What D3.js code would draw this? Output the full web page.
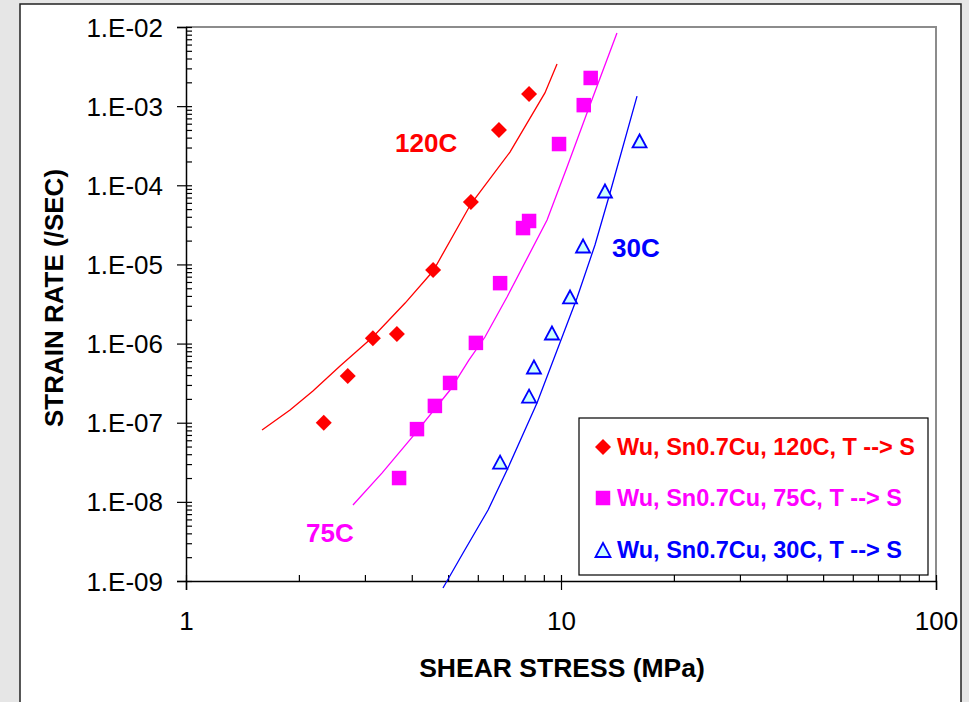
<!DOCTYPE html>
<html>
<head>
<meta charset="utf-8">
<script src="https://cdn.jsdelivr.net/npm/d3@7"></script>
<style>
  body { margin: 0; background: #e6e6e6; }
  svg { display: block; }
  text { font-family: "Liberation Sans", Arial, sans-serif; }
</style>
</head>
<body>
<svg id="chart" width="969" height="702"></svg>
<script>
// Measured creep data: shear stress (MPa) vs strain rate (/sec)
const stress120 = [2.33, 2.70, 3.15, 3.65, 4.56, 5.75, 6.83, 8.22];
const rate120   = [1.0e-7, 3.9e-7, 1.17e-6, 1.32e-6, 8.5e-6, 6.15e-5, 5.0e-4, 1.42e-3];

const stress75 = [3.70, 4.13, 4.61, 5.06, 5.93, 6.88, 7.92, 8.22, 9.88, 11.5, 12.0];
const rate75   = [2.0e-8, 8.3e-8, 1.63e-7, 3.18e-7, 1.02e-6, 5.8e-6, 2.88e-5, 3.54e-5, 3.32e-4, 1.03e-3, 2.27e-3];

const stress30 = [6.88, 8.22, 8.47, 9.46, 10.57, 11.45, 13.1, 16.2];
const rate30   = [3.18e-8, 2.17e-7, 5.06e-7, 1.36e-6, 3.88e-6, 1.71e-5, 8.47e-5, 3.63e-4];

// Fitted curves
const fit120Stress = [1.595, 1.894, 2.18, 2.575, 3.15, 3.84, 4.56, 5.75, 7.31, 9.06, 9.76];
const fit120Rate   = [8.09e-8, 1.447e-7, 2.516e-7, 5.21e-7, 1.21e-6, 3.25e-6, 8.26e-6, 5.80e-5, 2.63e-4, 1.47e-3, 3.41e-3];

const fit75Stress = [2.788, 3.33, 4.01, 5.06, 5.68, 6.27, 7.18, 9.18, 10.38, 11.73, 14.1];
const fit75Rate   = [9.12e-9, 2.31e-8, 6.59e-8, 2.59e-7, 6.19e-7, 1.21e-6, 3.88e-6, 3.64e-5, 1.70e-4, 8.19e-4, 8.4e-3];

const fit30Stress = [4.845, 5.48, 6.39, 7.18, 8.63, 11.03, 12.32, 13.51, 15.95];
const fit30Rate   = [8.15e-10, 2.26e-9, 7.88e-9, 2.52e-8, 1.77e-7, 3.77e-6, 1.76e-5, 7.99e-5, 1.34e-3];

const seriesNames = ["Wu, Sn0.7Cu, 120C, T --> S", "Wu, Sn0.7Cu, 75C, T --> S", "Wu, Sn0.7Cu, 30C, T --> S"];
const curveLabels = ["120C", "75C", "30C"];

const xTickValues = [1, 10, 100];
const xTickLabels = ["1", "10", "100"];
const yTickValues = [1e-9, 1e-8, 1e-7, 1e-6, 1e-5, 1e-4, 1e-3, 1e-2];
const yTickLabels = ["1.E-09", "1.E-08", "1.E-07", "1.E-06", "1.E-05", "1.E-04", "1.E-03", "1.E-02"];

const xTitle = "SHEAR STRESS (MPa)";
const yTitle = "STRAIN RATE (/SEC)";

const RED = "#ff0000", MAGENTA = "#ff00ff", BLUE = "#0000ff";

const svg = d3.select("#chart");

// page background and chart frame
svg.append("rect").attr("width", 969).attr("height", 702).attr("fill", "#e6e6e6");
svg.append("rect").attr("x", 20).attr("y", 4).attr("width", 941).attr("height", 730)
  .attr("fill", "#ffffff").attr("stroke", "#222").attr("stroke-width", 1.5);

const plotLeft = 186, plotRight = 936, plotTop = 27, plotBottom = 581;
const x = d3.scaleLog().domain([1, 100]).range([plotLeft, plotRight]);
const y = d3.scaleLog().domain([1e-9, 1e-2]).range([plotBottom, plotTop]);

// plot area border (top and right)
svg.append("path")
  .attr("d", `M${plotLeft},${plotTop}H${plotRight}V${plotBottom}`)
  .attr("fill", "none").attr("stroke", "#8c8c8c").attr("stroke-width", 2);

// minor tick positions (2..9 within each decade)
const xMinor = [], yMinor = [];
xTickValues.slice(0, -1).forEach(d => { for (let k = 2; k <= 9; k++) xMinor.push(d * k); });
yTickValues.slice(0, -1).forEach(d => { for (let k = 2; k <= 9; k++) yMinor.push(d * k); });

const tickFont = "26px";

// Y axis: major ticks outward with labels
const yAxis = svg.append("g").attr("transform", `translate(${plotLeft},0)`)
  .call(d3.axisLeft(y).tickValues(yTickValues).tickSize(9).tickPadding(14)
    .tickFormat((d, i) => yTickLabels[i]));
yAxis.select(".domain").attr("stroke", "#000").attr("stroke-width", 1.5);
yAxis.selectAll(".tick line").attr("stroke", "#000").attr("stroke-width", 1.2);
yAxis.selectAll(".tick text").attr("font-size", tickFont).attr("fill", "#000")
  .attr("font-family", "'Liberation Sans', Arial, sans-serif").attr("dy", "0.35em");

// Y axis inner ticks
const yInner = svg.append("g").attr("transform", `translate(${plotLeft},0)`)
  .call(d3.axisRight(y).tickValues(yMinor.concat(yTickValues)).tickSize(6).tickFormat(""));
yInner.select(".domain").remove();
yInner.selectAll(".tick line").attr("stroke", "#000").attr("stroke-width", 1.2);

// X axis: major ticks outward with labels
const xAxis = svg.append("g").attr("transform", `translate(0,${plotBottom})`)
  .call(d3.axisBottom(x).tickValues(xTickValues).tickSize(9).tickPadding(22)
    .tickFormat((d, i) => xTickLabels[i]));
xAxis.select(".domain").attr("stroke", "#000").attr("stroke-width", 1.5);
xAxis.selectAll(".tick line").attr("stroke", "#000").attr("stroke-width", 1.2);
xAxis.selectAll(".tick text").attr("font-size", tickFont).attr("fill", "#000")
  .attr("font-family", "'Liberation Sans', Arial, sans-serif");

// X axis inner ticks
const xInner = svg.append("g").attr("transform", `translate(0,${plotBottom})`)
  .call(d3.axisTop(x).tickValues(xMinor.concat(xTickValues)).tickSize(6).tickFormat(""));
xInner.select(".domain").remove();
xInner.selectAll(".tick line").attr("stroke", "#000").attr("stroke-width", 1.2);

// axis titles
svg.append("text").attr("x", 562).attr("y", 677).attr("text-anchor", "middle")
  .attr("font-size", "26.5px").attr("font-weight", "bold").attr("fill", "#000").text(xTitle);
svg.append("text").attr("transform", "translate(63,298) rotate(-90)").attr("text-anchor", "middle")
  .attr("font-size", "26px").attr("font-weight", "bold").attr("fill", "#000").text(yTitle);

// fitted curves
const line = d3.line().x(d => x(d[0])).y(d => y(d[1]));
[[fit120Stress, fit120Rate, RED], [fit75Stress, fit75Rate, MAGENTA], [fit30Stress, fit30Rate, BLUE]]
  .forEach(([xs, ys, c]) => {
    svg.append("path").datum(xs.map((v, i) => [v, ys[i]]))
      .attr("d", line).attr("fill", "none").attr("stroke", c).attr("stroke-width", 1.3);
  });

// markers
const diamond = (cx, cy, r) => `M${cx},${cy - r}L${cx + r},${cy}L${cx},${cy + r}L${cx - r},${cy}Z`;
const square = (cx, cy, s) => `M${cx - s / 2},${cy - s / 2}h${s}v${s}h${-s}Z`;
const triangle = (cx, cy, w, h) => `M${cx},${cy - h / 2}L${cx + w / 2},${cy + h / 2}L${cx - w / 2},${cy + h / 2}Z`;

svg.append("g").selectAll("path").data(stress120.map((v, i) => [v, rate120[i]])).join("path")
  .attr("d", d => diamond(x(d[0]), y(d[1]), 8)).attr("fill", RED);
svg.append("g").selectAll("path").data(stress75.map((v, i) => [v, rate75[i]])).join("path")
  .attr("d", d => square(x(d[0]), y(d[1]), 14.5)).attr("fill", MAGENTA);
svg.append("g").selectAll("path").data(stress30.map((v, i) => [v, rate30[i]])).join("path")
  .attr("d", d => triangle(x(d[0]), y(d[1]), 14, 13)).attr("fill", "#ccffff")
  .attr("stroke", BLUE).attr("stroke-width", 1.8).attr("stroke-linejoin", "miter");

// curve labels
[RED, MAGENTA, BLUE].forEach((c, i) => {
  svg.append("text").attr("x", [395, 306, 612][i]).attr("y", [152, 542, 257][i])
    .attr("font-size", "26px").attr("font-weight", "bold").attr("fill", c).text(curveLabels[i]);
});

// legend
const lg = svg.append("g");
lg.append("rect").attr("x", 579).attr("y", 418).attr("width", 349).attr("height", 157)
  .attr("fill", "#fff").attr("stroke", "#000").attr("stroke-width", 1.2);
const rowY = [447, 498, 550];
lg.append("path").attr("d", diamond(603, rowY[0], 8)).attr("fill", RED);
lg.append("path").attr("d", square(603, rowY[1], 14.5)).attr("fill", MAGENTA);
lg.append("path").attr("d", triangle(603, rowY[2], 15, 14)).attr("fill", "#ccffff")
  .attr("stroke", BLUE).attr("stroke-width", 1.8);
[RED, MAGENTA, BLUE].forEach((c, i) => {
  lg.append("text").attr("x", 617).attr("y", rowY[i] + 8)
    .attr("font-size", "23.5px").attr("font-weight", "bold").attr("fill", c).text(seriesNames[i]);
});
</script>
</body>
</html>
